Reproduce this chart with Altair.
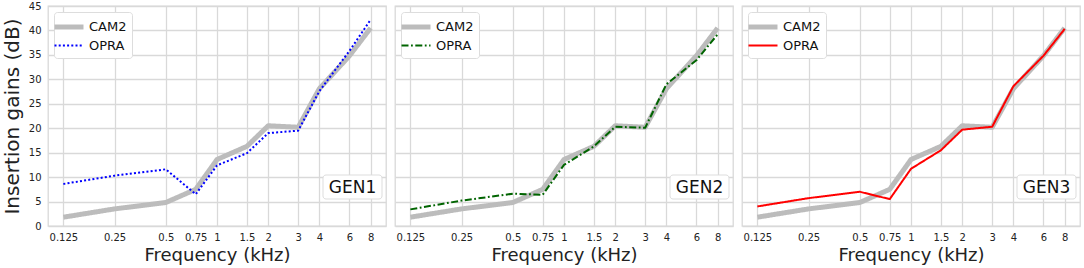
import altair as alt
import pandas as pd

freqs = [0.125, 0.25, 0.5, 0.75, 1, 1.5, 2, 3, 4, 6, 8]
cam2 = [1.8, 3.5, 4.8, 7.5, 13.6, 16.3, 20.5, 20.2, 28.1, 34.8, 40.5]
opra_gen1 = [8.6, 10.3, 11.6, 6.5, 12.4, 14.9, 19.0, 19.5, 27.6, 35.8, 42.2]
opra_gen2 = [3.4, 5.2, 6.6, 6.4, 12.5, 16.3, 20.3, 20.1, 29.0, 33.9, 39.2]
opra_gen3 = [4.0, 5.7, 7.0, 5.5, 11.7, 15.5, 19.7, 20.3, 28.6, 34.8, 40.3]
series_names = ["CAM2", "OPRA"]
gen_labels = ["GEN1", "GEN2", "GEN3"]
opra_colors = ["#0000ff", "#006400", "#ff0000"]
opra_dashes = [[2, 2.2], [7, 2.5, 1.8, 2.5], [1, 0]]
y_ticks = [0, 5, 10, 15, 20, 25, 30, 35, 40, 45]

FONT = "DejaVu Sans"
GRID = "#d9d9d9"
W, H = 338, 220


def panel(opra, color, dash, label, first):
    df = pd.DataFrame({
        "f": freqs * 2,
        "gain": cam2 + opra,
        "series": [series_names[0]] * len(freqs) + [series_names[1]] * len(freqs),
    })
    if first:
        yaxis = alt.Axis(values=y_ticks, title="Insertion gains (dB)", titleFontSize=20,
                         titleFontWeight="normal", titleColor="#222222", titlePadding=6,
                         labelFontSize=10, labelColor="#222222", labelPadding=7,
                         ticks=False, domain=False, gridColor=GRID, gridWidth=1.3)
    else:
        yaxis = alt.Axis(values=y_ticks, title=None, labels=False, ticks=False,
                         domain=False, gridColor=GRID, gridWidth=1.3,
                         minExtent=0, maxExtent=0, labelPadding=0, offset=0)
    leg = alt.Legend(title=None, orient="top-left")
    lines = alt.Chart(df).mark_line(strokeCap="butt", strokeJoin="round").encode(
        x=alt.X("f:Q",
                scale=alt.Scale(type="log", base=2, domain=[2 ** -3.3, 2 ** 3.3], nice=False),
                axis=alt.Axis(values=freqs, labelExpr="'' + datum.value",
                              title="Frequency (kHz)", titleFontSize=18,
                              titleFontWeight="normal", titleColor="#222222", titlePadding=4,
                              labelFontSize=10, labelColor="#222222", labelPadding=6,
                              ticks=False, domain=False, gridColor=GRID, gridWidth=1.3,
                              labelFlush=False)),
        y=alt.Y("gain:Q", scale=alt.Scale(domain=[0, 45], nice=False), axis=yaxis),
        color=alt.Color("series:N",
                        scale=alt.Scale(domain=series_names, range=["#bcbcbc", color]),
                        legend=leg),
        strokeDash=alt.StrokeDash("series:N",
                                  scale=alt.Scale(domain=series_names, range=[[1, 0], dash]),
                                  legend=leg),
        strokeWidth=alt.StrokeWidth("series:N",
                                    scale=alt.Scale(domain=series_names, range=[5, 2]),
                                    legend=leg),
        order=alt.Order("series:N"),
    )
    box = alt.Chart().mark_rect(fill="white", stroke="#dddddd", strokeWidth=1,
                                cornerRadius=3).encode(
        x=alt.value(W - 63), x2=alt.value(W - 4), y=alt.value(169), y2=alt.value(193))
    txt = alt.Chart().mark_text(text=label, font=FONT, fontSize=17, color="#111111",
                                align="center", baseline="middle").encode(
        x=alt.value(W - 33.5), y=alt.value(181.5))
    return alt.layer(lines, box, txt).properties(width=W, height=H).resolve_scale(
        color="independent", strokeDash="independent", strokeWidth="independent")


panels = [panel(o, c, d, l, i == 0) for i, (o, c, d, l) in enumerate(
    zip([opra_gen1, opra_gen2, opra_gen3], opra_colors, opra_dashes, gen_labels))]

chart = alt.hconcat(*panels, spacing=7).resolve_scale(
    color="independent", strokeDash="independent", strokeWidth="independent"
).resolve_legend(
    color="independent", strokeDash="independent", strokeWidth="independent"
).properties(
    padding={"left": 1, "top": 0, "right": 2, "bottom": 0}
).configure(font=FONT).configure_view(
    stroke=GRID, strokeWidth=1.3
).configure_legend(
    orient="top-left", offset=6, symbolType="M-2.05,0L2.05,0", symbolSize=200,
    labelFontSize=13, labelFont=FONT, labelColor="#111111", labelLimit=200,
    fillColor="white", strokeColor="#dddddd", cornerRadius=3, padding=5,
    rowPadding=0, labelOffset=10, titlePadding=0
)

chart.save("out.html", embed_options={"renderer": "svg", "actions": False})
